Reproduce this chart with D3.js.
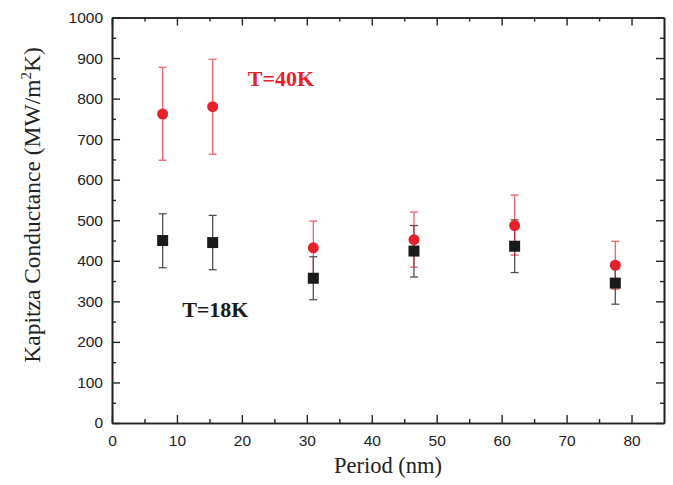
<!DOCTYPE html>
<html>
<head>
<meta charset="utf-8">
<script src="https://cdn.jsdelivr.net/npm/d3@7"></script>
<style>
  body { margin: 0; background: #fff; }
  .tick text { font-family: "Liberation Sans", Arial, sans-serif; font-size: 15.5px; fill: #222; }
</style>
</head>
<body>
<script>
// data
const period = [7.8, 15.5, 31, 46.5, 62, 77.5];
const g40 = [762, 780, 432, 452, 487, 389];
const g40Lo = [648, 663, 368, 384, 414, 330];
const g40Hi = [877, 897, 498, 520, 562, 448];
const g18 = [450, 445, 357, 424, 436, 345];
const g18Lo = [383, 378, 304, 360, 371, 293];
const g18Hi = [516, 512, 410, 487, 501, 397];
const xTicks = [0, 10, 20, 30, 40, 50, 60, 70, 80];
const yTicks = [0, 100, 200, 300, 400, 500, 600, 700, 800, 900, 1000];

function main(){
    const W = 673, H = 485;
    const m = {left: 112, right: 9, top: 17.5, bottom: 62};
    const width = W - m.left - m.right;
    const height = H - m.top - m.bottom;

    const svg = d3.select("body").append("svg")
        .attr("width", W)
        .attr("height", H);

    const g = svg.append("g")
        .attr("transform", `translate(${m.left},${m.top})`);

    const x = d3.scaleLinear().domain([0, 85]).range([0, width]);
    const y = d3.scaleLinear().domain([0, 1000]).range([height, 0]);

    const minorX = d3.range(5, 85, 10);
    const minorY = d3.range(50, 1000, 100);
    const fmt = d3.format("d");

    // axes: major ticks inward, minor ticks shorter
    const styleAxis = sel => {
        sel.select(".domain").attr("stroke", "#222").attr("stroke-width", 1.6);
        sel.selectAll(".tick line").attr("stroke", "#222").attr("stroke-width", 1.4);
    };
    g.append("g").attr("transform", `translate(0,${height})`)
        .call(d3.axisBottom(x).tickValues(xTicks).tickFormat(fmt).tickSize(-8).tickPadding(12).tickSizeOuter(0))
        .call(styleAxis);
    g.append("g").attr("transform", `translate(0,${height})`)
        .call(d3.axisBottom(x).tickValues(minorX).tickSize(-4).tickFormat("").tickSizeOuter(0))
        .call(styleAxis);
    g.append("g")
        .call(d3.axisLeft(y).tickValues(yTicks).tickFormat(fmt).tickSize(-8).tickPadding(9).tickSizeOuter(0))
        .call(styleAxis);
    g.append("g")
        .call(d3.axisLeft(y).tickValues(minorY).tickSize(-4).tickFormat("").tickSizeOuter(0))
        .call(styleAxis);
    g.append("g")
        .call(d3.axisTop(x).tickValues(xTicks).tickSize(-8).tickFormat("").tickSizeOuter(0))
        .call(styleAxis);
    g.append("g")
        .call(d3.axisTop(x).tickValues(minorX).tickSize(-4).tickFormat("").tickSizeOuter(0))
        .call(styleAxis);
    g.append("g").attr("transform", `translate(${width},0)`)
        .call(d3.axisRight(y).tickValues(yTicks).tickSize(-8).tickFormat("").tickSizeOuter(0))
        .call(styleAxis);
    g.append("g").attr("transform", `translate(${width},0)`)
        .call(d3.axisRight(y).tickValues(minorY).tickSize(-4).tickFormat("").tickSizeOuter(0))
        .call(styleAxis);

    // error bars
    function errBars(lo, hi, color, op){
        const eg = g.append("g").attr("stroke", color).attr("stroke-width", 1.3).attr("opacity", op);
        period.forEach((p, i) => {
            const cx = x(p);
            eg.append("line").attr("x1", cx).attr("x2", cx).attr("y1", y(lo[i])).attr("y2", y(hi[i]));
            eg.append("line").attr("x1", cx - 4).attr("x2", cx + 4).attr("y1", y(lo[i])).attr("y2", y(lo[i]));
            eg.append("line").attr("x1", cx - 4).attr("x2", cx + 4).attr("y1", y(hi[i])).attr("y2", y(hi[i]));
        });
    }
    errBars(g18Lo, g18Hi, "#333", 0.85);
    errBars(g40Lo, g40Hi, "#e8202a", 0.7);

    g.selectAll("rect.sq").data(period).join("rect")
        .attr("class", "sq")
        .attr("x", d => x(d) - 5.5)
        .attr("y", (d, i) => y(g18[i]) - 5.5)
        .attr("width", 11).attr("height", 11)
        .attr("fill", "#1a1a1a");

    g.selectAll("circle.pt").data(period).join("circle")
        .attr("class", "pt")
        .attr("cx", d => x(d))
        .attr("cy", (d, i) => y(g40[i]))
        .attr("r", 5.5)
        .attr("fill", "#e8202a");

    // in-plot labels
    g.append("text")
        .attr("x", x(20.9)).attr("y", y(830))
        .attr("font-family", "Liberation Serif, Times New Roman, serif")
        .attr("font-weight", "bold").attr("font-size", "22px")
        .attr("fill", "#e8202a")
        .text("T=40K");
    g.append("text")
        .attr("x", x(10.8)).attr("y", y(261))
        .attr("font-family", "Liberation Serif, Times New Roman, serif")
        .attr("font-weight", "bold").attr("font-size", "22px")
        .attr("fill", "#1a1a1a")
        .text("T=18K");

    // axis titles
    svg.append("text")
        .attr("x", m.left + width / 2).attr("y", 473)
        .attr("text-anchor", "middle")
        .attr("font-family", "Liberation Serif, Times New Roman, serif")
        .attr("font-size", "22.5px").attr("fill", "#222")
        .text("Period (nm)");

    const yt = svg.append("text")
        .attr("transform", `translate(40,205) rotate(-90)`)
        .attr("text-anchor", "middle")
        .attr("font-family", "Liberation Serif, Times New Roman, serif")
        .attr("font-size", "23.5px").attr("fill", "#222");
    yt.append("tspan").text("Kapitza Conductance (MW/m");
    yt.append("tspan").attr("dy", -9).attr("font-size", "15px").text("2");
    yt.append("tspan").attr("dy", 9).text("K)");
}
main();
</script>
</body>
</html>
